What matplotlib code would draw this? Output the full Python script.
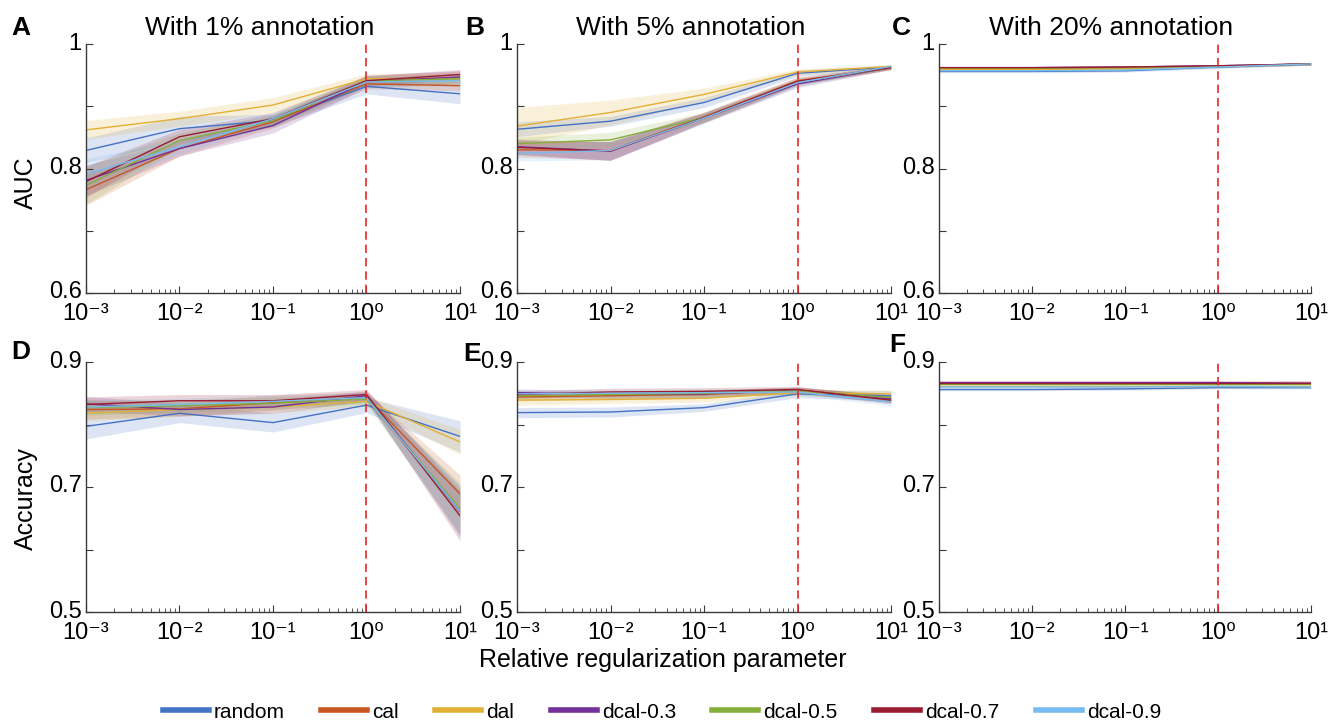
import numpy as np
import matplotlib
matplotlib.use("Agg")
import matplotlib.pyplot as plt
import matplotlib.transforms as mtransforms
from matplotlib.lines import Line2D

plt.rcParams['font.family'] = ['Liberation Sans', 'DejaVu Sans']

# ---------------- data ----------------
x_vals = [1e-3, 1e-2, 1e-1, 1e0, 1e1]
x_ticklabels = ['10\u207b\u00b3', '10\u207b\u00b2', '10\u207b\u00b9', '10\u2070', '10\u00b9']
methods = ['random', 'cal', 'dal', 'dcal-0.3', 'dcal-0.5', 'dcal-0.7', 'dcal-0.9']
colors = ['#4472C4', '#C9561F', '#E2B035', '#74309A', '#85AE3A', '#9A1B32', '#76BCEE']
titles = ['With 1% annotation', 'With 5% annotation', 'With 20% annotation']
panel_letters = ['A', 'B', 'C', 'D', 'E', 'F']

# AUC, 1% annotation (mean, band half-width)
auc_1 = {
    'random':   [0.829, 0.864, 0.877, 0.932, 0.920],
    'cal':      [0.766, 0.832, 0.875, 0.936, 0.933],
    'dal':      [0.862, 0.880, 0.902, 0.944, 0.945],
    'dcal-0.3': [0.781, 0.832, 0.869, 0.940, 0.947],
    'dcal-0.5': [0.773, 0.845, 0.877, 0.941, 0.944],
    'dcal-0.7': [0.779, 0.851, 0.880, 0.941, 0.951],
    'dcal-0.9': [0.791, 0.835, 0.880, 0.939, 0.941],
}
auc_1_err = {
    'random':   [0.020, 0.020, 0.010, 0.012, 0.016],
    'cal':      [0.025, 0.012, 0.010, 0.008, 0.008],
    'dal':      [0.015, 0.012, 0.012, 0.008, 0.010],
    'dcal-0.3': [0.025, 0.012, 0.012, 0.010, 0.010],
    'dcal-0.5': [0.030, 0.012, 0.010, 0.008, 0.008],
    'dcal-0.7': [0.025, 0.012, 0.010, 0.008, 0.008],
    'dcal-0.9': [0.025, 0.012, 0.010, 0.008, 0.008],
}
# AUC, 5% annotation
auc_5 = {
    'random':   [0.863, 0.876, 0.906, 0.953, 0.963],
    'cal':      [0.830, 0.829, 0.883, 0.941, 0.962],
    'dal':      [0.868, 0.890, 0.919, 0.955, 0.964],
    'dcal-0.3': [0.835, 0.828, 0.881, 0.936, 0.962],
    'dcal-0.5': [0.840, 0.846, 0.882, 0.939, 0.962],
    'dcal-0.7': [0.834, 0.828, 0.882, 0.940, 0.962],
    'dcal-0.9': [0.824, 0.829, 0.881, 0.938, 0.964],
}
auc_5_err = {
    'random':   [0.012, 0.008, 0.008, 0.005, 0.003],
    'cal':      [0.012, 0.015, 0.008, 0.006, 0.003],
    'dal':      [0.030, 0.020, 0.010, 0.005, 0.003],
    'dcal-0.3': [0.012, 0.015, 0.008, 0.006, 0.003],
    'dcal-0.5': [0.010, 0.012, 0.008, 0.005, 0.003],
    'dcal-0.7': [0.012, 0.015, 0.008, 0.006, 0.003],
    'dcal-0.9': [0.012, 0.015, 0.008, 0.006, 0.003],
}
# AUC, 20% annotation
auc_20 = {
    'random':   [0.956, 0.956, 0.957, 0.963, 0.968],
    'cal':      [0.961, 0.961, 0.962, 0.964, 0.968],
    'dal':      [0.959, 0.959, 0.960, 0.964, 0.968],
    'dcal-0.3': [0.962, 0.962, 0.963, 0.965, 0.968],
    'dcal-0.5': [0.961, 0.961, 0.962, 0.964, 0.968],
    'dcal-0.7': [0.962, 0.962, 0.963, 0.965, 0.968],
    'dcal-0.9': [0.957, 0.957, 0.958, 0.963, 0.968],
}
auc_20_err = {m: [0.002, 0.002, 0.002, 0.002, 0.002] for m in methods}

# Accuracy, 1% annotation
acc_1 = {
    'random':   [0.797, 0.818, 0.803, 0.831, 0.781],
    'cal':      [0.824, 0.825, 0.835, 0.844, 0.689],
    'dal':      [0.818, 0.824, 0.828, 0.837, 0.772],
    'dcal-0.3': [0.833, 0.824, 0.828, 0.846, 0.661],
    'dcal-0.5': [0.827, 0.830, 0.834, 0.841, 0.666],
    'dcal-0.7': [0.832, 0.838, 0.838, 0.848, 0.654],
    'dcal-0.9': [0.828, 0.832, 0.837, 0.843, 0.662],
}
acc_1_err = {
    'random':   [0.020, 0.015, 0.015, 0.012, 0.025],
    'cal':      [0.015, 0.012, 0.012, 0.008, 0.030],
    'dal':      [0.012, 0.010, 0.010, 0.008, 0.020],
    'dcal-0.3': [0.012, 0.010, 0.010, 0.008, 0.040],
    'dcal-0.5': [0.012, 0.010, 0.010, 0.008, 0.040],
    'dcal-0.7': [0.012, 0.010, 0.010, 0.008, 0.040],
    'dcal-0.9': [0.012, 0.010, 0.010, 0.008, 0.040],
}
# Accuracy, 5% annotation
acc_5 = {
    'random':   [0.819, 0.820, 0.827, 0.849, 0.846],
    'cal':      [0.844, 0.846, 0.848, 0.855, 0.841],
    'dal':      [0.839, 0.840, 0.842, 0.851, 0.849],
    'dcal-0.3': [0.851, 0.848, 0.849, 0.855, 0.841],
    'dcal-0.5': [0.846, 0.848, 0.850, 0.854, 0.843],
    'dcal-0.7': [0.848, 0.852, 0.853, 0.856, 0.839],
    'dcal-0.9': [0.849, 0.850, 0.851, 0.852, 0.836],
}
acc_5_err = {
    'random':   [0.008, 0.008, 0.006, 0.006, 0.008],
    'cal':      [0.006, 0.006, 0.006, 0.005, 0.006],
    'dal':      [0.008, 0.006, 0.006, 0.005, 0.006],
    'dcal-0.3': [0.006, 0.006, 0.006, 0.005, 0.006],
    'dcal-0.5': [0.006, 0.006, 0.006, 0.005, 0.006],
    'dcal-0.7': [0.006, 0.006, 0.006, 0.005, 0.006],
    'dcal-0.9': [0.006, 0.006, 0.006, 0.005, 0.006],
}
# Accuracy, 20% annotation
acc_20 = {
    'random':   [0.856, 0.856, 0.857, 0.859, 0.859],
    'cal':      [0.866, 0.866, 0.866, 0.866, 0.866],
    'dal':      [0.862, 0.862, 0.862, 0.862, 0.862],
    'dcal-0.3': [0.867, 0.867, 0.867, 0.867, 0.866],
    'dcal-0.5': [0.865, 0.865, 0.865, 0.865, 0.865],
    'dcal-0.7': [0.867, 0.867, 0.867, 0.867, 0.867],
    'dcal-0.9': [0.860, 0.860, 0.860, 0.861, 0.860],
}
acc_20_err = {m: [0.002, 0.002, 0.002, 0.002, 0.002] for m in methods}

auc_yticks = [0.6, 0.7, 0.8, 0.9, 1.0]
auc_yticklabels = ['0.6', '', '0.8', '', '1']
acc_yticks = [0.5, 0.6, 0.7, 0.8, 0.9]
acc_yticklabels = ['0.5', '', '0.7', '', '0.9']

# ---------------- figure ----------------
W, H = 1329, 723
fig = plt.figure(figsize=(W / 100, H / 100), dpi=100)

lefts = [86, 517, 939]
widths = [374, 374, 372]
row_top = [44, 362]
row_bot = [293, 612]

panels = [
    (auc_1, auc_1_err), (auc_5, auc_5_err), (auc_20, auc_20_err),
    (acc_1, acc_1_err), (acc_5, acc_5_err), (acc_20, acc_20_err),
]
spine_col = '#3a3a3a'
up_shift = mtransforms.ScaledTranslation(0, 3 / 100, fig.dpi_scale_trans)
axes = []
for i, (means, errs) in enumerate(panels):
    r, c = divmod(i, 3)
    ax = fig.add_axes([lefts[c] / W, 1 - row_bot[r] / H, widths[c] / W,
                       (row_bot[r] - row_top[r]) / H])
    axes.append(ax)
    for m, col in zip(methods, colors):
        mu = np.array(means[m]); e = np.array(errs[m])
        ax.fill_between(x_vals, mu - e, mu + e, color=col, alpha=0.18, lw=0)
    for m, col in zip(methods, colors):
        ax.plot(x_vals, means[m], color=col, lw=1.0)
    ax.axvline(1.0, color='#E8262A', ls=(0, (5, 3)), lw=1.2)
    ax.set_xscale('log')
    ax.set_xlim(1e-3, 1e1)
    ax.set_xticks(x_vals)
    ax.set_xticklabels(x_ticklabels)
    if r == 0:
        ax.set_ylim(0.6, 1.0)
        ax.set_yticks(auc_yticks)
        ax.set_yticklabels(auc_yticklabels)
    else:
        ax.set_ylim(0.5, 0.9)
        ax.set_yticks(acc_yticks)
        ax.set_yticklabels(acc_yticklabels)
    for s in ['top', 'right']:
        ax.spines[s].set_visible(False)
    for s in ['left', 'bottom']:
        ax.spines[s].set_color(spine_col)
        ax.spines[s].set_linewidth(1.0)
    ax.tick_params(which='major', direction='in', length=5, width=0.8,
                   colors=spine_col, labelcolor='black', labelsize=17, pad=3)
    ax.tick_params(which='minor', direction='in', length=3, width=0.6,
                   colors=spine_col)
    ax.tick_params(axis='x', pad=7)
    for lab in ax.get_yticklabels():
        lab.set_transform(lab.get_transform() + up_shift)

axes[0].set_ylabel('AUC', fontsize=18)
axes[0].yaxis.set_label_coords(-0.128, 0.445)
axes[3].set_ylabel('Accuracy', fontsize=18)
axes[3].yaxis.set_label_coords(-0.128, 0.455)

# titles
title_x = [260, 691, 1111]
for c in range(3):
    fig.text(title_x[c] / W, 1 - 35 / H, titles[c], fontsize=19,
             ha='center', va='baseline')

# panel letters
letter_pos = [(11, 35), (465, 35), (892, 35), (11, 359), (463, 361), (889, 352)]
for L, (px, py) in zip(panel_letters, letter_pos):
    fig.text(px / W, 1 - py / H, L, fontsize=19, fontweight='bold',
             ha='left', va='baseline')

fig.text(663 / W, 1 - 667 / H, 'Relative regularization parameter',
         fontsize=18, ha='center', va='baseline')

handles = [Line2D([0], [0], color=col, lw=4) for col in colors]
fig.legend(handles, methods, loc='center', bbox_to_anchor=(662 / W, 1 - 712 / H),
           ncol=7, frameon=False, fontsize=15, handlelength=2.2,
           handletextpad=0.25, columnspacing=1.75, borderpad=0, borderaxespad=0)

fig.savefig('out.png', dpi=100)
